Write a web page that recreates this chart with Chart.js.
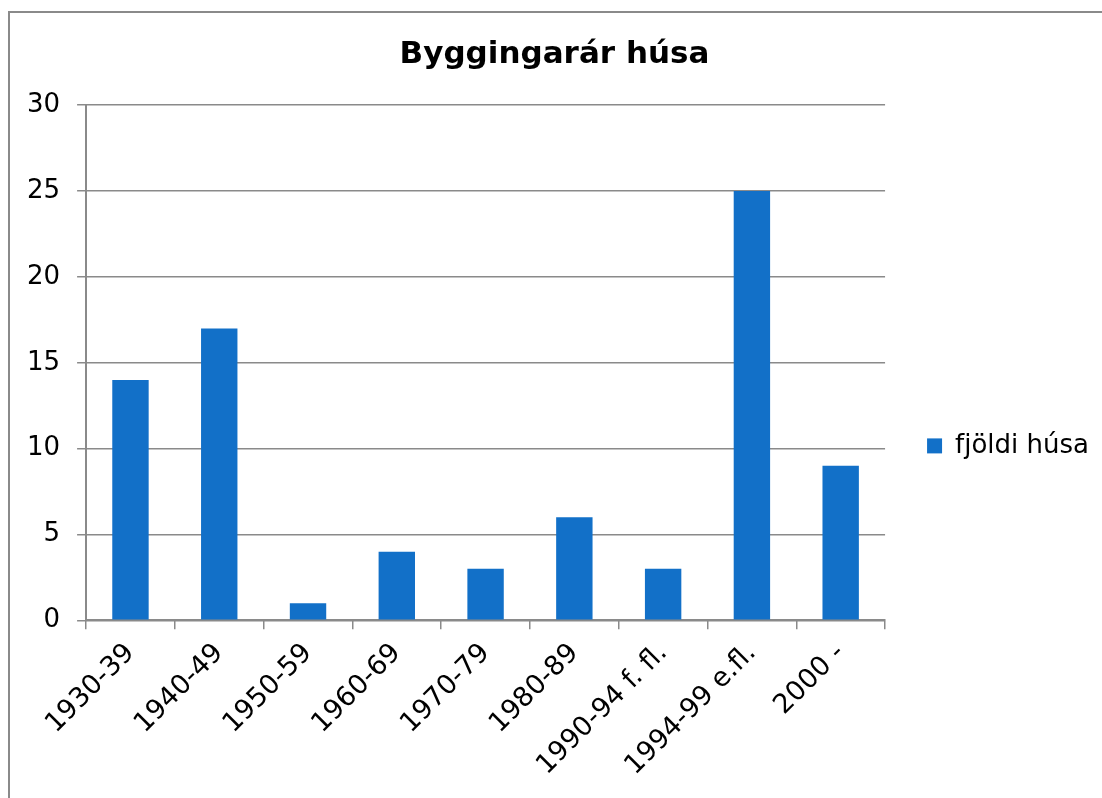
<!DOCTYPE html>
<html>
<head>
<meta charset="utf-8">
<script src="https://cdn.jsdelivr.net/npm/chart.js@4/dist/chart.umd.min.js"></script>
<style>
  html, body { margin: 0; padding: 0; background: #fff; overflow: hidden; }
  #frame {
    position: absolute; left: 8px; top: 11px;
    width: 1094px; height: 787px;
    border-left: 2px solid #8a8a8a; border-top: 2px solid #8a8a8a;
  }
  #wrap { position: absolute; left: 0; top: 0; width: 1092px; height: 785px; }
</style>
</head>
<body>
<div id="frame"><div id="wrap"><canvas id="chart-byggingarar"></canvas></div></div>
<script>
const chartTitle = 'Byggingarár húsa';
const seriesLabel = 'fjöldi húsa';
const periods = ['1930-39', '1940-49', '1950-59', '1960-69', '1970-79', '1980-89', '1990-94 f. fl.', '1994-99 e.fl.', '2000 -'];
const houseCounts = [14, 17, 1, 4, 3, 6, 3, 25, 9];
const yTicks = [0, 5, 10, 15, 20, 25, 30];

const FONT = "'DejaVu Sans', Verdana, sans-serif";
const GRID = '#8a8a8a';
const BAR = '#1270c8';

new Chart(document.getElementById('chart-byggingarar'), {
  type: 'bar',
  data: {
    labels: periods,
    datasets: [{
      label: seriesLabel,
      data: houseCounts,
      backgroundColor: BAR,
      borderWidth: 0,
      barPercentage: 0.41,
      categoryPercentage: 1,
    }],
  },
  options: {
    responsive: true,
    maintainAspectRatio: false,
    animation: false,
    layout: { padding: { left: 0, right: 3, top: 0, bottom: 8 } },
    plugins: {
      title: {
        display: true,
        text: chartTitle,
        color: '#000',
        font: { family: FONT, size: 31, weight: 'bold' },
        padding: { top: 23, bottom: 32 },
      },
      legend: {
        position: 'right',
        align: 'center',
        // empty legend title only pushes the entry down, like the original
        title: { display: true, text: '', padding: { top: 0, bottom: 60 }, font: { size: 24 } },
        labels: {
          color: '#000',
          font: { family: FONT, size: 26 },
          boxWidth: 15,
          boxHeight: 15,
          padding: 42,
        },
      },
      tooltip: { enabled: false },
    },
    scales: {
      x: {
        afterFit: s => { s.paddingLeft = 0; s.paddingRight = 0; },
        grid: { offset: true, drawOnChartArea: false, drawTicks: true, tickLength: 9, color: GRID, lineWidth: 1.5 },
        border: { color: GRID, width: 2 },
        ticks: {
          color: '#000',
          font: { family: FONT, size: 27 },
          minRotation: 45,
          maxRotation: 45,
          autoSkip: false,
          padding: 8,
        },
      },
      y: {
        min: 0,
        max: 30,
        afterBuildTicks: axis => { axis.ticks = yTicks.map(v => ({ value: v })); },
        grid: { color: GRID, lineWidth: 1.5, tickLength: 9 },
        border: { color: GRID, width: 2 },
        ticks: {
          color: '#000',
          font: { family: FONT, size: 26 },
          padding: 17,
        },
      },
    },
  },
});
</script>
</body>
</html>
